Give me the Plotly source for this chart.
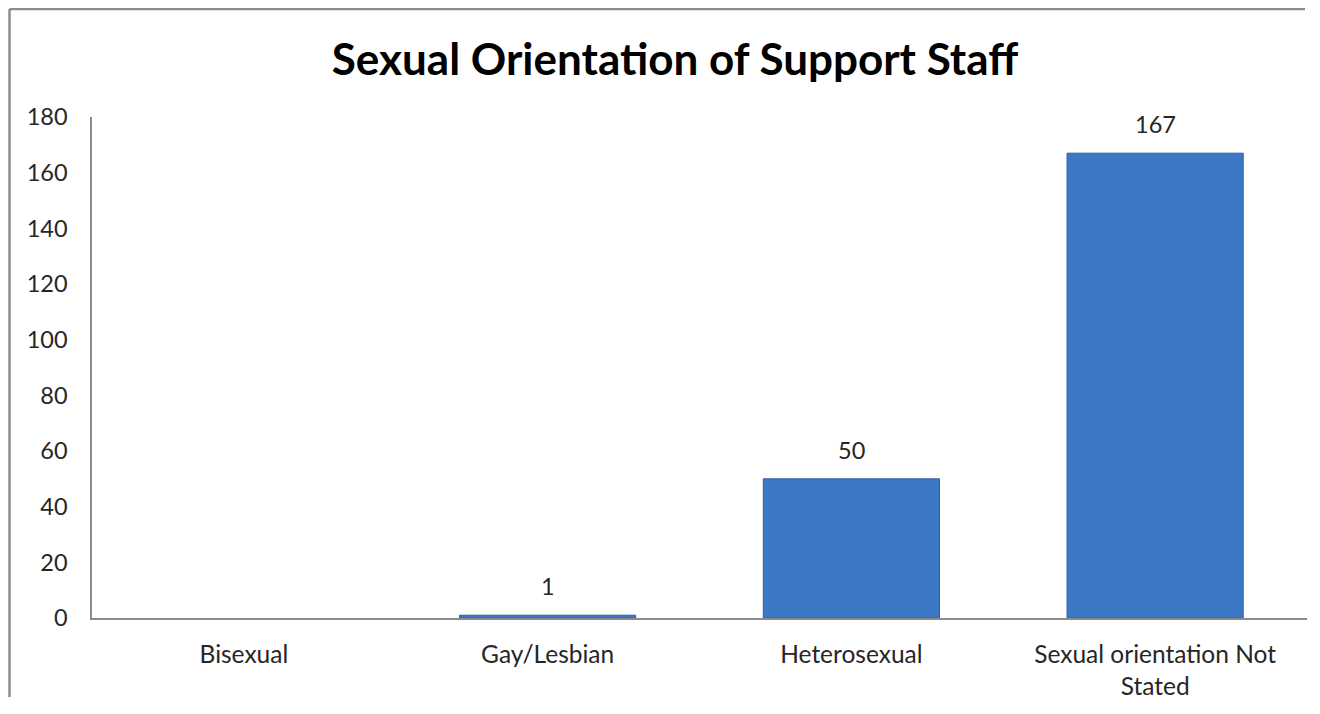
import plotly.graph_objects as go

categories = ["Bisexual", "Gay/Lesbian", "Heterosexual", "Sexual orientation Not Stated"]
tick_labels = ["Bisexual", "Gay/Lesbian", "Heterosexual", "Sexual orientation Not<br>Stated"]
values = [0, 1, 50, 167]
y_ticks = [0, 20, 40, 60, 80, 100, 120, 140, 160, 180]

TITLE = "Sexual Orientation of Support Staff"
FONT = "Lato"
TEXT_COLOR = "#262626"

# the page body has an 8px margin, so the figure is sized to fit inside it
W, H = 1300, 692
L, R, T, B = 84, 1, 109, 82
plot_w = W - L - R
plot_h = H - T - B

fig = go.Figure()
fig.add_trace(go.Bar(
    x=categories,
    y=values,
    width=0.58,
    marker=dict(color="#3C78C6",
                line=dict(color="#2E5E9E", width=[0 if v == 0 else 1 for v in values])),
    hoverinfo="x+y",
    showlegend=False,
))

# data labels (zero values are not labelled, as in the original)
for c, v in zip(categories, values):
    if v:
        fig.add_annotation(x=c, y=v, text=str(v), showarrow=False,
                           yanchor="bottom", yshift=13,
                           font=dict(family=FONT, size=23.5, color=TEXT_COLOR))

# outer chart frame (only the left and top edges are inside the picture)
fx0 = (1.5 - L) / plot_w
fx1 = (W - 3 - L) / plot_w
fy0 = -(B - 3) / plot_h
fy1 = (H - B - 1.0) / plot_h
frame = dict(color="#8C8C8C", width=2.5)
fig.add_shape(type="line", xref="paper", yref="paper",
              x0=fx0, x1=fx0, y0=fy0, y1=fy1, line=frame)
fig.add_shape(type="line", xref="paper", yref="paper",
              x0=fx0, x1=fx1, y0=fy1, y1=fy1, line=frame)

fig.update_layout(
    width=W, height=H,
    margin=dict(l=L, r=R, t=T, b=B),
    paper_bgcolor="white", plot_bgcolor="white",
    title=dict(text="<b>" + TITLE + "</b>", x=(667 - L) / plot_w, xref="paper",
               xanchor="center", y=1 - 52 / H, yanchor="middle",
               font=dict(family=FONT, size=44, color="#000000")),
    font=dict(family=FONT, color=TEXT_COLOR),
)
fig.update_xaxes(
    range=[-0.5, 3.5],
    tickmode="array", tickvals=categories, ticktext=tick_labels,
    tickfont=dict(family=FONT, size=24.5, color=TEXT_COLOR),
    showline=True, linecolor="#8C8C8C", linewidth=1.5,
    showgrid=False, ticks="", ticklabelstandoff=14, zeroline=False,
)
fig.update_yaxes(
    range=[0, 180],
    tickmode="array", tickvals=y_ticks,
    tickfont=dict(family=FONT, size=23.5, color=TEXT_COLOR),
    showline=True, linecolor="#8C8C8C", linewidth=1.5,
    showgrid=False, ticks="", ticklabelstandoff=18, zeroline=False,
)

fig.write_html("out.html")
